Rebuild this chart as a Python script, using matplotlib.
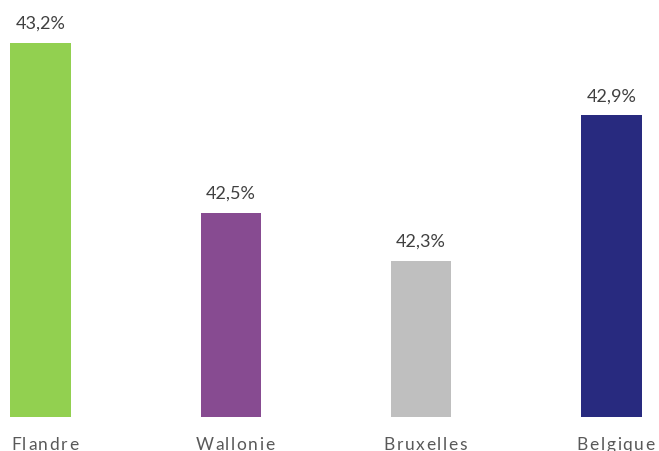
import matplotlib
matplotlib.use("Agg")
import matplotlib.pyplot as plt
from matplotlib.font_manager import FontProperties
from matplotlib.transforms import offset_copy

regions = ["Flandre", "Wallonie", "Bruxelles", "Belgique"]
values = [43.2, 42.5, 42.3, 42.9]
colors = ["#92D050", "#874B91", "#BFBFBF", "#282A7F"]

fig = plt.figure(figsize=(6.59, 4.52), dpi=100)
ax = fig.add_axes([0, 34 / 452, 1, 418 / 452])

x = list(range(len(regions)))
bars = ax.bar(x, values, width=0.316, color=colors, zorder=2)

ax.set_xlim(-0.2128, 3.2497)
ax.set_ylim(41.66, 43.379)
ax.axis("off")

val_font = FontProperties(family="Lato", size=13)
tick_font = FontProperties(family="Lato", size=12.5)

for xi, v in zip(x, values):
    ax.annotate(f"{v:.1f}%".replace(".", ","), xy=(xi, v), xytext=(0, 11),
                textcoords="offset points", ha="center", va="baseline",
                fontproperties=val_font, color="#404040")

# category labels drawn letter by letter with extra tracking
renderer = fig.canvas.get_renderer()
tracking_px = 1.6


def text_width(s):
    if not s:
        return 0.0
    w, h, d = renderer.get_text_width_height_descent(s, tick_font, ismath=False)
    return w


for xi, name in zip(x, regions):
    total = text_width(name) + tracking_px * (len(name) - 1)
    start = -total / 2 + 4
    for i, ch in enumerate(name):
        dx = start + text_width(name[:i]) + tracking_px * i
        tr = offset_copy(ax.get_xaxis_transform(), fig=fig, x=dx * 72 / 100,
                         y=-32 * 72 / 100, units="points")
        ax.text(xi, 0, ch, transform=tr, ha="left", va="baseline",
                fontproperties=tick_font, color="#595959", clip_on=False)

fig.savefig("out.png", dpi=100)
